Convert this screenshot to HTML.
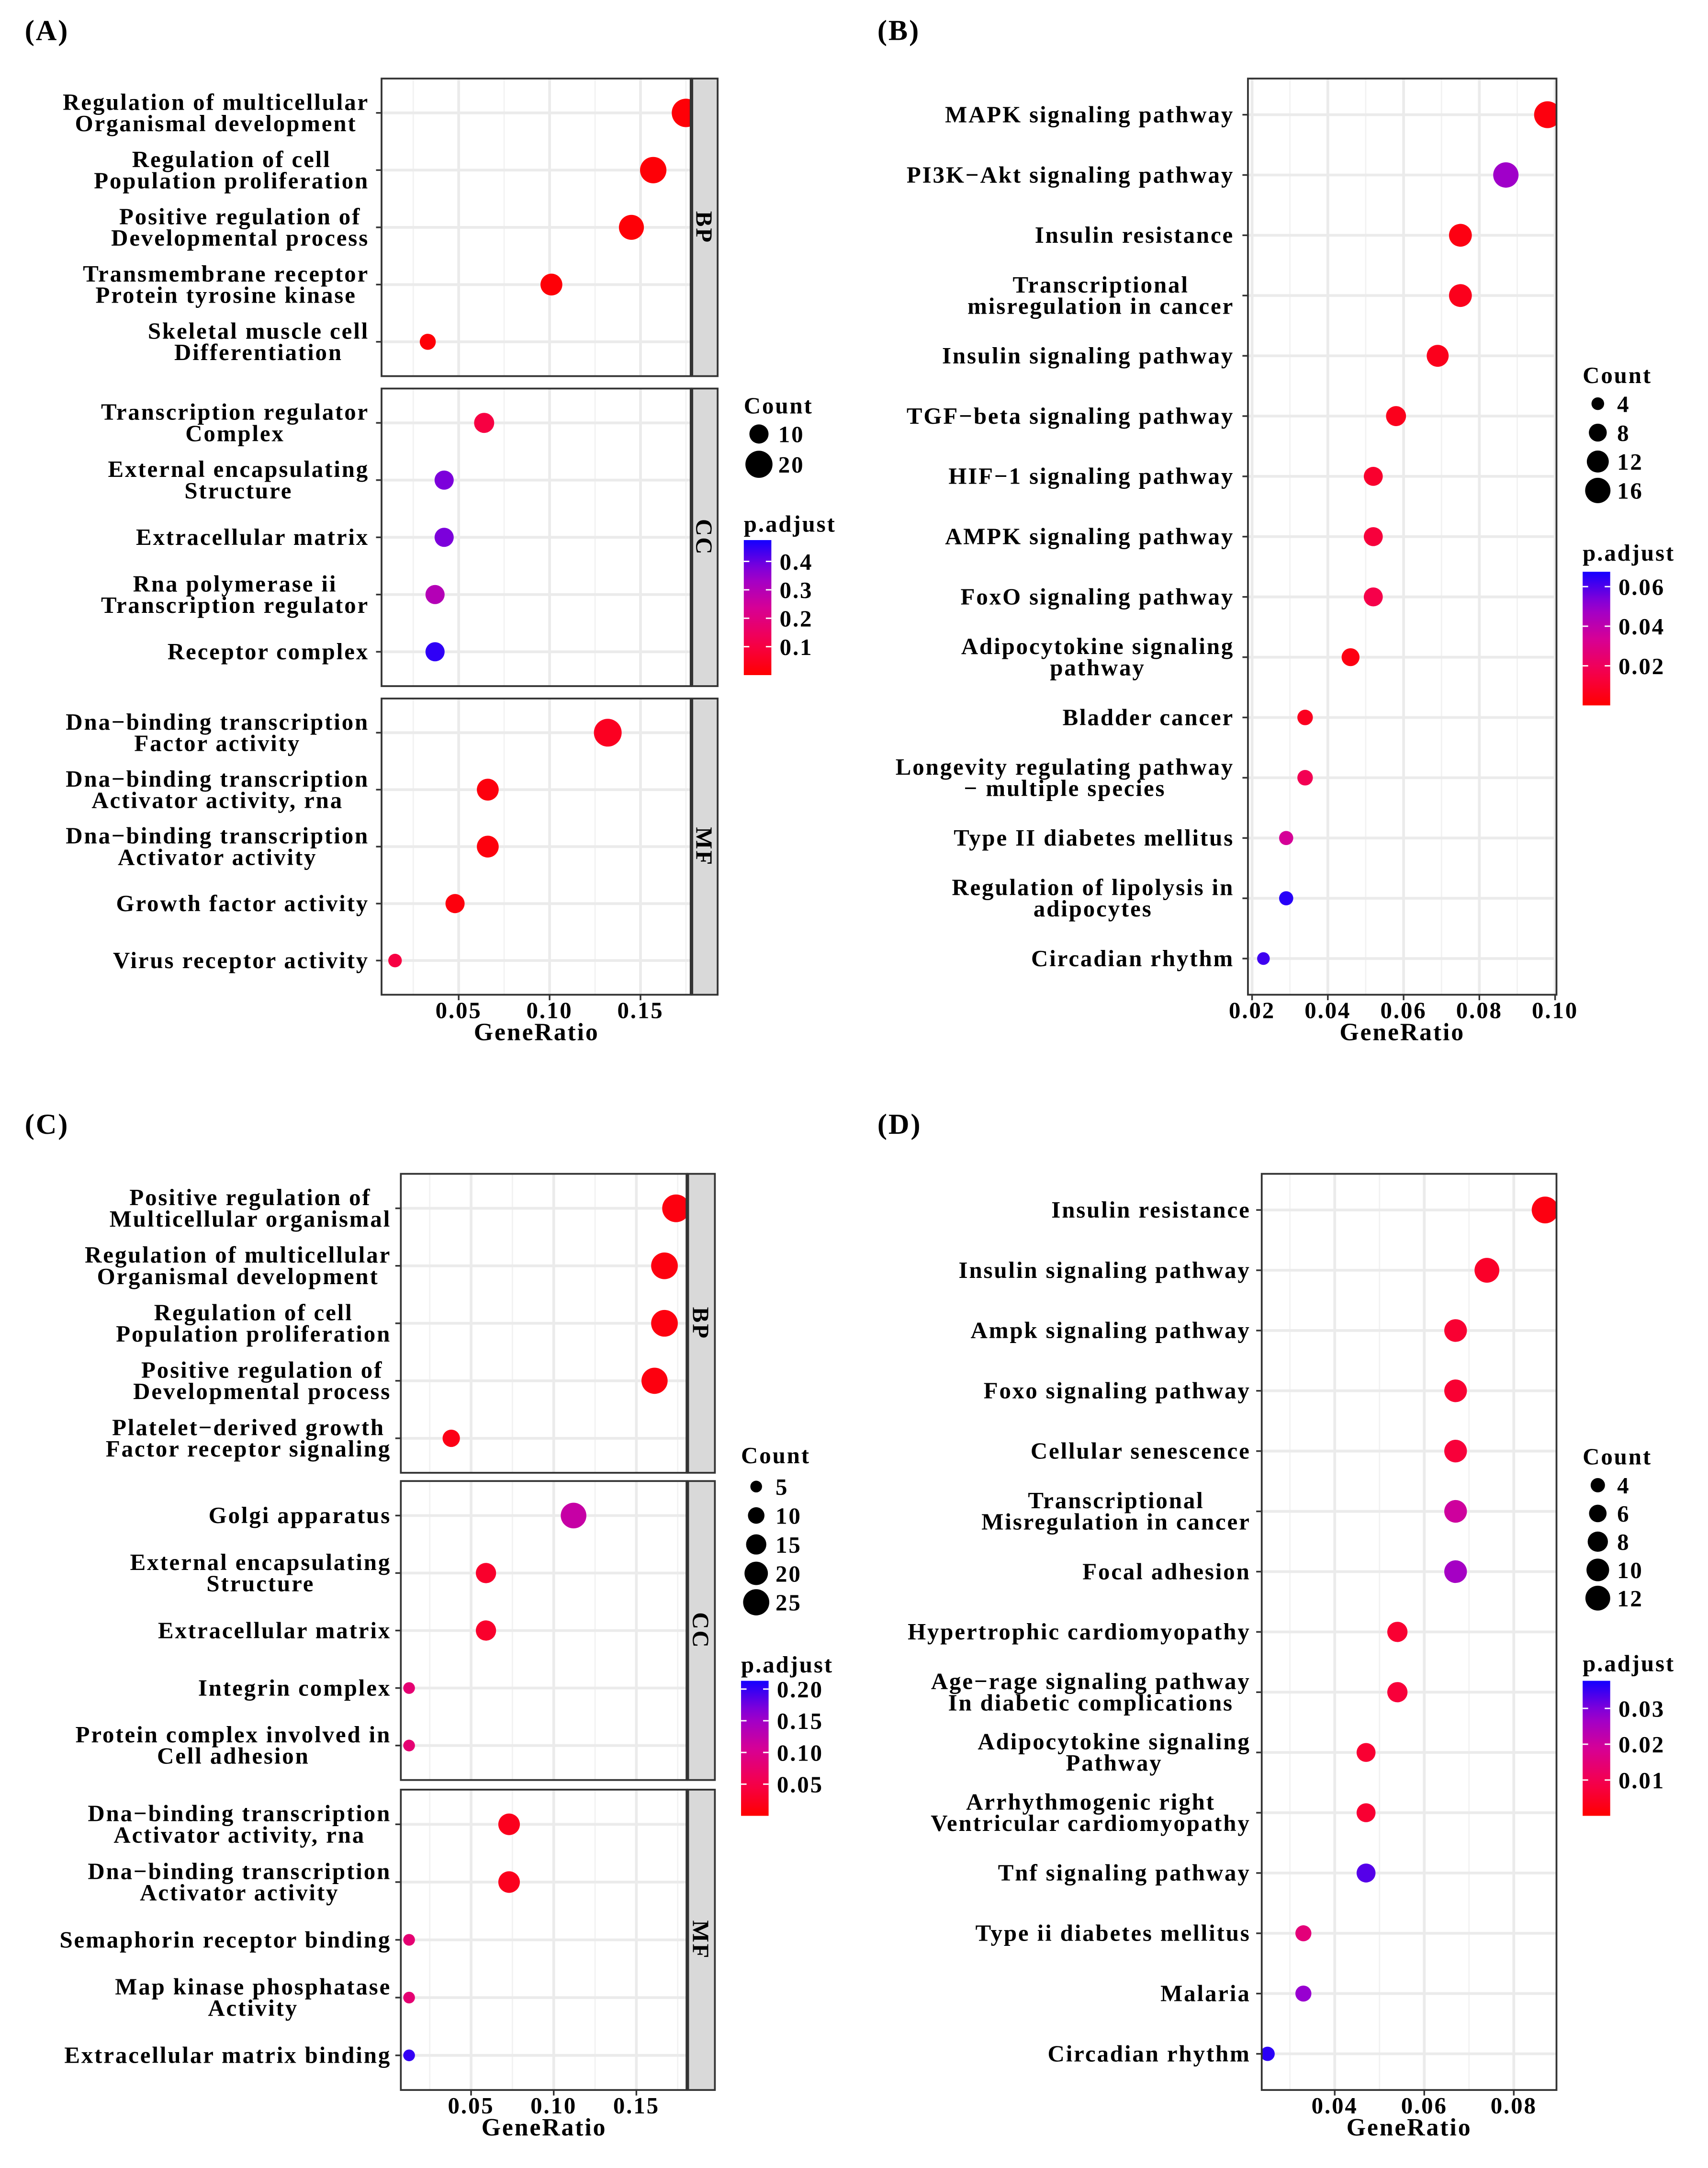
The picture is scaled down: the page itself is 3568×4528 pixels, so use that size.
<!DOCTYPE html>
<html><head><meta charset="utf-8"><style>
html,body{margin:0;padding:0;background:#fff}
svg{display:block}
text{font-family:"Liberation Serif",serif;font-weight:bold;fill:#000;letter-spacing:1px}
</style></head><body>
<svg id="fig" xmlns="http://www.w3.org/2000/svg" width="3568" height="4528" viewBox="0 0 1240 1573.6">
<rect width="1240" height="1573.6" fill="#fff"/>
</svg>
<script>
// ---------- Panel A data ----------
const A_terms = [
 ["Regulation of multicellular","Organismal development"],["Regulation of cell","Population proliferation"],["Positive regulation of","Developmental process"],["Transmembrane receptor","Protein tyrosine kinase"],["Skeletal muscle cell","Differentiation"],
 ["Transcription regulator","Complex"],["External encapsulating","Structure"],["Extracellular matrix"],["Rna polymerase ii","Transcription regulator"],["Receptor complex"],
 ["Dna\u2212binding transcription","Factor activity"],["Dna\u2212binding transcription","Activator activity, rna"],["Dna\u2212binding transcription","Activator activity"],["Growth factor activity"],["Virus receptor activity"]];
const A_ratio = [0.175,0.157,0.145,0.101,0.033, 0.064,0.042,0.042,0.037,0.037, 0.132,0.066,0.066,0.048,0.015];
const A_count = [22,19,17,13,7, 11,10,10,10,10, 21,13,13,10,5];
const A_padj  = [0.01,0.01,0.01,0.01,0.01, 0.1,0.38,0.38,0.3,0.45, 0.05,0.02,0.02,0.02,0.1];
const A_ticks = [0.05,0.10,0.15];
const A_countLegend = [10,20];
const A_padjTicks = [0.1,0.2,0.3,0.4];
// ---------- Panel B data ----------
const B_terms = [["MAPK signaling pathway"],["PI3K\u2212Akt signaling pathway"],["Insulin resistance"],["Transcriptional","misregulation in cancer"],["Insulin signaling pathway"],["TGF\u2212beta signaling pathway"],["HIF\u22121 signaling pathway"],["AMPK signaling pathway"],["FoxO signaling pathway"],["Adipocytokine signaling","pathway"],["Bladder cancer"],["Longevity regulating pathway","\u2212 multiple species"],["Type II diabetes mellitus"],["Regulation of lipolysis in","adipocytes"],["Circadian rhythm"]];
const B_ratio = [0.098,0.087,0.075,0.075,0.069,0.058,0.052,0.052,0.052,0.046,0.034,0.034,0.029,0.029,0.023];
const B_count = [18,16,13,13,12,10,9,9,9,8,6,6,5,5,4];
const B_padj  = [0.003,0.048,0.004,0.006,0.006,0.006,0.01,0.013,0.016,0.004,0.007,0.018,0.034,0.065,0.062];
const B_ticks = [0.02,0.04,0.06,0.08,0.10];
const B_countLegend = [4,8,12,16];
const B_padjTicks = [0.02,0.04,0.06];
// ---------- Panel C data ----------
const C_terms = [["Positive regulation of","Multicellular organismal"],["Regulation of multicellular","Organismal development"],["Regulation of cell","Population proliferation"],["Positive regulation of","Developmental process"],["Platelet\u2212derived growth","Factor receptor signaling"],
 ["Golgi apparatus"],["External encapsulating","Structure"],["Extracellular matrix"],["Integrin complex"],["Protein complex involved in","Cell adhesion"],
 ["Dna\u2212binding transcription","Activator activity, rna"],["Dna\u2212binding transcription","Activator activity"],["Semaphorin receptor binding"],["Map kinase phosphatase","Activity"],["Extracellular matrix binding"]];
const C_ratio = [0.174,0.167,0.167,0.161,0.038, 0.112,0.059,0.059,0.0125,0.0125, 0.073,0.073,0.0125,0.0125,0.0125];
const C_count = [28,26,26,25,11, 24,15,15,5,5, 17,17,5,5,5];
const C_padj  = [0.01,0.01,0.01,0.01,0.015, 0.12,0.03,0.03,0.08,0.08, 0.02,0.02,0.08,0.08,0.2];
const C_ticks = [0.05,0.10,0.15];
const C_countLegend = [5,10,15,20,25];
const C_padjTicks = [0.05,0.10,0.15,0.20];
// ---------- Panel D data ----------
const D_terms = [["Insulin resistance"],["Insulin signaling pathway"],["Ampk signaling pathway"],["Foxo signaling pathway"],["Cellular senescence"],["Transcriptional","Misregulation in cancer"],["Focal adhesion"],["Hypertrophic cardiomyopathy"],["Age\u2212rage signaling pathway","In diabetic complications"],["Adipocytokine signaling","Pathway"],["Arrhythmogenic right","Ventricular cardiomyopathy"],["Tnf signaling pathway"],["Type ii diabetes mellitus"],["Malaria"],["Circadian rhythm"]];
const D_ratio = [0.087,0.074,0.067,0.067,0.067,0.067,0.067,0.054,0.054,0.047,0.047,0.047,0.033,0.033,0.025];
const D_count = [14,12,10,10,10,10,10,8,8,7,7,7,5,5,4];
const D_padj  = [0.002,0.005,0.006,0.006,0.007,0.02,0.026,0.006,0.007,0.006,0.006,0.033,0.015,0.028,0.036];
const D_ticks = [0.04,0.06,0.08];
const D_countLegend = [4,6,8,10,12];
const D_padjTicks = [0.01,0.02,0.03];

const NS="http://www.w3.org/2000/svg";
const svg=document.getElementById('fig');
function mk(tag,attrs,parent){const e=document.createElementNS(NS,tag);for(const k in attrs)e.setAttribute(k,attrs[k]);(parent||svg).appendChild(e);return e;}
const stops=[[0,[255,0,0]],[0.25,[245,0,78]],[0.5,[214,0,150]],[0.75,[150,0,210]],[1,[20,0,255]]];
function colorAt(t){t=Math.max(0,Math.min(1,t));for(let i=1;i<stops.length;i++){if(t<=stops[i][0]){const a=stops[i-1],b=stops[i];const f=(t-a[0])/(b[0]-a[0]);const c=a[1].map((v,j)=>Math.round(v+(b[1][j]-v)*f));return `rgb(${c[0]},${c[1]},${c[2]})`;}}return 'rgb(20,0,255)';}
let gid=0;
function panel(p){
  const g=mk('g',{});
  
  
  const lt=mk('text',{x:p.letter[0],y:p.letter[1],'font-size':21},g);lt.textContent=p.letterText;
  
  
  const xs=v=>p.x0+(v-p.v0)*p.k;
  let idx=0;
  p.facets.forEach((f,fi)=>{
    const n=f.n, step=(f.y1-f.y0)/(n-1+1.2);
    mk('rect',{x:p.px0,y:f.y0,width:p.px1-p.px0,height:f.y1-f.y0,fill:'#fff'},g);
    const gridG=mk('g',{},g);
    for(let i=0;i<p.ticks.length+1;i++){
      const mv=(i===0?p.ticks[0]-(p.ticks[1]-p.ticks[0])/2:(p.ticks[i-1]+(p.ticks[1]-p.ticks[0])/2));
      const mx=xs(mv); if(mx>p.px0&&mx<p.px1) mk('line',{x1:mx,x2:mx,y1:f.y0,y2:f.y1,stroke:'#f2f2f2','stroke-width':1},gridG);
    }
    p.ticks.forEach(t=>{const tx=xs(t);if(tx>=p.px0-1&&tx<=p.px1+1)mk('line',{x1:tx,x2:tx,y1:f.y0,y2:f.y1,stroke:'#ebebeb','stroke-width':2},gridG);});
    const cid='clip'+(gid++);
    const cp=mk('clipPath',{id:cid},g);mk('rect',{x:p.px0,y:f.y0,width:p.px1-p.px0,height:f.y1-f.y0},cp);
    const dg=mk('g',{'clip-path':`url(#${cid})`},g);
    for(let i=0;i<n;i++,idx++){
      const y=f.y0+(0.6+i)*step;
      mk('line',{x1:p.px0,x2:p.px1,y1:y,y2:y,stroke:'#ebebeb','stroke-width':2},gridG);
      mk('line',{x1:p.px0-4,x2:p.px0,y1:y,y2:y,stroke:'#333','stroke-width':1.2},g);
      const c=mk('circle',{cx:xs(p.ratio[idx]),cy:y,r:p.rk*Math.sqrt(p.count[idx]),fill:colorAt(p.padj[idx]/p.pmax)},dg);
      
      
      const lines=p.terms[idx];
      const tg=mk('g',{},g);
      
      
      const els=lines.map((s,k)=>{const t=mk('text',{y:y+(k-(lines.length-1)/2)*15.5+5.5,'font-size':17,'text-anchor':'middle'},tg);t.textContent=s;return t;});
      const w=Math.max(...els.map(e=>e.getComputedTextLength()));
      els.forEach(e=>e.setAttribute('x',p.labelRight-w/2));
    }
    mk('rect',{x:p.px0,y:f.y0,width:p.px1-p.px0,height:f.y1-f.y0,fill:'none',stroke:'#333','stroke-width':1.3},g);
    if(f.strip){
      mk('rect',{x:p.px1,y:f.y0,width:p.sw,height:f.y1-f.y0,fill:'#d9d9d9',stroke:'#333','stroke-width':1.3},g);
      mk('line',{x1:p.px1,x2:p.px1,y1:f.y0,y2:f.y1,stroke:'#333','stroke-width':2.5},g);
      const sx=p.px1+p.sw/2, sy=(f.y0+f.y1)/2;
      const st=mk('text',{x:sx,y:sy,'font-size':17,'text-anchor':'middle',transform:`rotate(90 ${sx} ${sy}) translate(0 6)`},g);st.textContent=f.strip;
      
      
    }
  });
  const yb=p.facets[p.facets.length-1].y1;
  p.ticks.forEach(t=>{const tx=xs(t);mk('line',{x1:tx,x2:tx,y1:yb,y2:yb+4,stroke:'#333','stroke-width':1.2},g);
    const tl=mk('text',{x:tx,y:yb+17,'font-size':17,'text-anchor':'middle'},g);tl.textContent=t.toFixed(2);
    
    });
  const xt=mk('text',{x:(p.px0+p.px1)/2,y:yb+33,'font-size':18,'text-anchor':'middle'},g);xt.textContent='GeneRatio';
  
  
  const L=p.leg;
  const ct=mk('text',{x:L.x,y:L.cy,'font-size':17},g);ct.textContent='Count';
  
  
  p.countLegend.forEach((c,i)=>{const y=L.cy+L.c0+i*L.cs;
    const d=mk('circle',{cx:L.x+11,cy:y,r:p.rk*Math.sqrt(c),fill:'#000'},g);
    
    
    const t=mk('text',{x:L.x+25,y:y+6,'font-size':17},g);t.textContent=c;});
  const pt=mk('text',{x:L.x,y:L.py,'font-size':17},g);pt.textContent='p.adjust';
  
  
  const gr='grad'+(gid++);
  const lg=mk('linearGradient',{id:gr,x1:0,y1:1,x2:0,y2:0},g);
  for(let i=0;i<=10;i++)mk('stop',{offset:i/10,'stop-color':colorAt(i/10)},lg);
  const bar=mk('rect',{x:L.x,y:L.by0,width:20,height:L.by1-L.by0,fill:`url(#${gr})`},g);
  
  
  p.padjTicks.forEach(v=>{const y=L.by1-(v/p.pmax)*(L.by1-L.by0);
    mk('line',{x1:L.x,x2:L.x+4,y1:y,y2:y,stroke:'#fff','stroke-width':1},g);
    mk('line',{x1:L.x+16,x2:L.x+20,y1:y,y2:y,stroke:'#fff','stroke-width':1},g);
    const t=mk('text',{x:L.x+26,y:y+6,'font-size':17},g);t.textContent=p.padjFmt(v);});
}
panel({name:'panel-a',letterText:'(A)',letter:[18,29],terms:A_terms,ratio:A_ratio,count:A_count,padj:A_padj,ticks:A_ticks,countLegend:A_countLegend,padjTicks:A_padjTicks,
 px0:277,px1:502,sw:19,x0:333,v0:0.05,k:1320,rk:2.2,pmax:0.475,labelRight:268,
 facets:[{y0:57,y1:273,n:5,strip:'BP'},{y0:282,y1:498,n:5,strip:'CC'},{y0:507,y1:722,n:5,strip:'MF'}],
 leg:{x:540,cy:300,c0:15,cs:22,py:386,by0:392,by1:490},padjFmt:v=>v.toFixed(1)});
panel({name:'panel-b',letterText:'(B)',letter:[637,29],terms:B_terms,ratio:B_ratio,count:B_count,padj:B_padj,ticks:B_ticks,countLegend:B_countLegend,padjTicks:B_padjTicks,
 px0:906,px1:1130,sw:0,x0:909,v0:0.02,k:2750,rk:2.3,pmax:0.0675,labelRight:896,
 facets:[{y0:57,y1:722,n:15}],
 leg:{x:1149,cy:278,c0:15,cs:21,py:407,by0:415,by1:512},padjFmt:v=>v.toFixed(2)});
panel({name:'panel-c',letterText:'(C)',letter:[18,823],terms:C_terms,ratio:C_ratio,count:C_count,padj:C_padj,ticks:C_ticks,countLegend:C_countLegend,padjTicks:C_padjTicks,
 px0:291,px1:499,sw:20,x0:342,v0:0.05,k:1200,rk:1.9,pmax:0.213,labelRight:284,
 facets:[{y0:852,y1:1069,n:5,strip:'BP'},{y0:1075,y1:1292,n:5,strip:'CC'},{y0:1299,y1:1517,n:5,strip:'MF'}],
 leg:{x:538,cy:1062,c0:17,cs:21,py:1214,by0:1220,by1:1318},padjFmt:v=>v.toFixed(2)});
panel({name:'panel-d',letterText:'(D)',letter:[637,823],terms:D_terms,ratio:D_ratio,count:D_count,padj:D_padj,ticks:D_ticks,countLegend:D_countLegend,padjTicks:D_padjTicks,
 px0:916,px1:1130,sw:0,x0:969,v0:0.04,k:3250,rk:2.6,pmax:0.0377,labelRight:908,
 facets:[{y0:852,y1:1517,n:15}],
 leg:{x:1149,cy:1063,c0:15,cs:20.5,py:1213,by0:1220,by1:1318},padjFmt:v=>v.toFixed(2)});
</script>
</body></html>
